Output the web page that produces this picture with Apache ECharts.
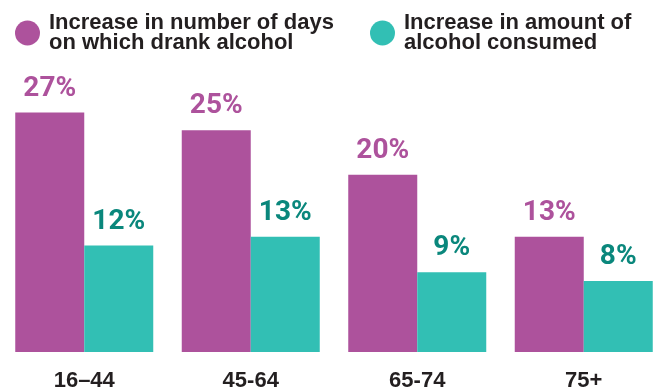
<!DOCTYPE html>
<html>
<head>
<meta charset="utf-8">
<title>Increase in drinking by age group</title>
<script src="https://cdn.jsdelivr.net/npm/echarts@6/dist/echarts.min.js"></script>
<style>
  html, body { margin: 0; padding: 0; background: #ffffff; overflow: hidden; }
  /* the plot runs a few pixels past the right edge, so the last bar sits flush */
  #chart { width: 667px; height: 392px; }
</style>
</head>
<body>
<div id="chart"></div>
<script>
// Age groups along the x axis
const ageGroups = ['16–44', '45-64', '65-74', '75+'];

// Percentage increases per age group
const moreDrinkingDays = [27, 25, 20, 13];
const moreAlcoholConsumed = [12, 13, 9, 8];

// Series names, and how they wrap in the legend
const daysName = 'Increase in number of days on which drank alcohol';
const amountName = 'Increase in amount of alcohol consumed';
const legendLines = {};
legendLines[daysName] = 'Increase in number of days\non which drank alcohol';
legendLines[amountName] = 'Increase in amount of\nalcohol consumed';

const PURPLE = '#ad529c';
const TEAL = '#32bfb4';
const TEAL_TEXT = '#0a877c';
const INK = '#231f20';

const chart = echarts.init(document.getElementById('chart'), null, { renderer: 'canvas' });

function legendFor(name, left) {
  return {
    data: [name],
    left: left,
    top: 12,
    padding: 0,
    orient: 'horizontal',
    icon: 'circle',
    itemWidth: 25,
    itemHeight: 25,
    selectedMode: false,
    formatter: function (n) { return legendLines[n]; },
    textStyle: {
      fontFamily: 'Liberation Sans, Arial, sans-serif',
      fontWeight: 'bold',
      fontSize: 22,
      lineHeight: 20,
      color: INK,
      padding: [0, 0, 0, 4]
    }
  };
}

function valueLabel(color) {
  return {
    show: true,
    position: 'top',
    distance: 10,
    formatter: '{c}%',
    fontFamily: 'Roboto, Liberation Sans, sans-serif',
    fontWeight: 'bold',
    fontSize: 28,
    color: color
  };
}

chart.setOption({
  animation: false,
  backgroundColor: '#ffffff',
  legend: [legendFor(daysName, 15), legendFor(amountName, 370)],
  grid: { left: 1, right: 0, top: 86, bottom: 37, containLabel: false },
  xAxis: {
    type: 'category',
    data: ageGroups,
    axisLine: { show: false },
    axisTick: { show: false },
    axisLabel: {
      margin: 18,
      fontFamily: 'Liberation Sans, Arial, sans-serif',
      fontWeight: 'bold',
      fontSize: 22,
      color: INK
    }
  },
  yAxis: {
    type: 'value',
    min: 0,
    max: 30,
    show: false,
    splitLine: { show: false }
  },
  series: [
    {
      name: daysName,
      type: 'bar',
      data: moreDrinkingDays,
      barWidth: 69,
      barGap: '0%',
      itemStyle: { color: PURPLE },
      label: valueLabel(PURPLE)
    },
    {
      name: amountName,
      type: 'bar',
      data: moreAlcoholConsumed,
      barWidth: 69,
      barGap: '0%',
      itemStyle: { color: TEAL },
      label: valueLabel(TEAL_TEXT)
    }
  ]
});
</script>
</body>
</html>
